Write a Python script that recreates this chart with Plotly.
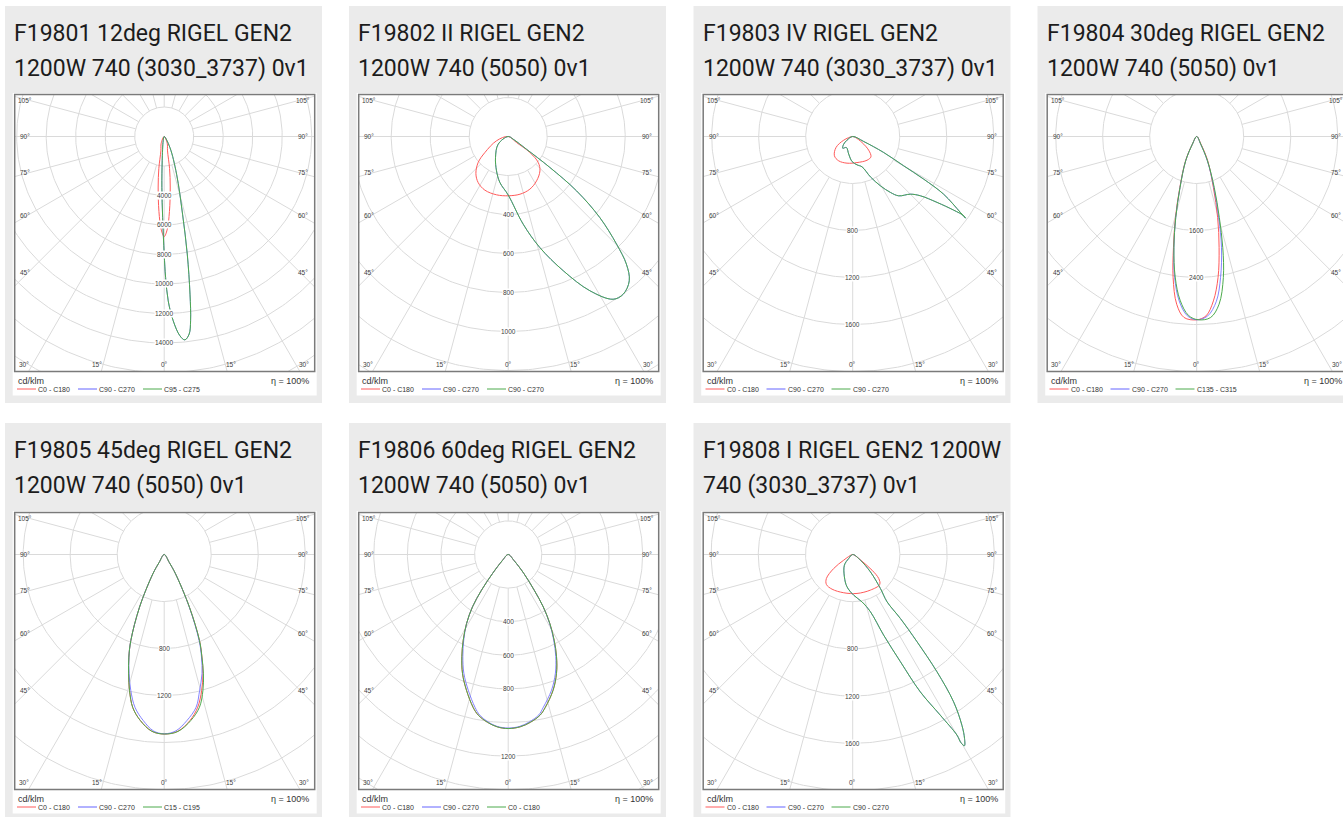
import numpy as np
import plotly.graph_objects as go

# ------------------------------------------------------------------ data
titles_line1 = ["F19801 12deg RIGEL GEN2", "F19802 II RIGEL GEN2", "F19803 IV RIGEL GEN2",
                "F19804 30deg RIGEL GEN2", "F19805 45deg RIGEL GEN2", "F19806 60deg RIGEL GEN2",
                "F19808 I RIGEL GEN2 1200W"]
titles_line2 = ["1200W 740 (3030_3737) 0v1", "1200W 740 (5050) 0v1", "1200W 740 (3030_3737) 0v1",
                "1200W 740 (5050) 0v1", "1200W 740 (5050) 0v1", "1200W 740 (5050) 0v1",
                "740 (3030_3737) 0v1"]
legend_names = [
    ["C0 - C180", "C90 - C270", "C95 - C275"],
    ["C0 - C180", "C90 - C270", "C90 - C270"],
    ["C0 - C180", "C90 - C270", "C90 - C270"],
    ["C0 - C180", "C90 - C270", "C135 - C315"],
    ["C0 - C180", "C90 - C270", "C15 - C195"],
    ["C0 - C180", "C90 - C270", "C0 - C180"],
    ["C0 - C180", "C90 - C270", "C90 - C270"],
]
unit_label = "cd/klm"
efficiency_label = "η = 100%"
ring_step = [2000, 200, 400, 800, 400, 200, 400]          # cd/klm between grid rings
ring_labels = [
    [4000, 6000, 8000, 10000, 12000, 14000],
    [400, 600, 800, 1000],
    [800, 1200, 1600],
    [1600, 2400],
    [800, 1200],
    [400, 600, 800, 1200],
    [800, 1200, 1600],
]
side_angle_labels = [105, 90, 75, 60, 45]
bottom_angle_labels = [-30, -15, 0, 15, 30]

# curves: signed gamma angle (deg, 0 = nadir, negative = left half) and intensity (cd/klm)
f19801_red_g = [-90, -24, -13, -9.5, -6.8, -4.0, -1.8, 0, 1.8, 4.0, 6.8, 9.5, 13, 24, 90]
f19801_red_i = [0, 500, 1000, 2200, 3450, 5100, 6330, 6780, 6330, 5100, 3450, 2200, 1000, 500, 0]
f19801_grn_g = [-90, -13, -4.7, -2.6, -1.1, 0, 0.57, 1.4, 2.8, 4.5, 5.8, 7.2, 8.15, 9.3, 11.1, 13.3, 18.2, 27.4, 90]
f19801_grn_i = [0, 300, 1650, 3460, 5490, 7970, 9560, 11150, 12510, 13550, 13860, 13500, 12620, 10830, 8120, 5410, 2690, 840, 0]
f19801_blu_g = f19801_grn_g
f19801_blu_i = f19801_grn_i

f19802_red_g = [-90, -69.8, -55.5, -49.1, -41.1, -33.1, -23.5, -11.3, 0, 11.5, 22.4, 32.6, 42.7, 49.1, 53.6, 54.1, 90]
f19802_red_i = [0, 64, 145, 204, 252, 282, 300, 305, 304, 302, 292, 270, 240, 204, 138, 53, 0]
f19802_grn_g = [-90, -52.4, -31.1, -18.8, -10.2, 0, 9.7, 15.9, 22.3, 27.9, 32.8, 36.1, 40, 42.8, 45.2, 48.5, 51.5, 53.4, 55.2, 61.6, 90]
f19802_grn_i = [0, 65, 126, 186, 240, 300, 456, 592, 744, 895, 993, 1001, 966, 892, 783, 627, 448, 266, 114, 29, 0]
f19802_blu_g = f19802_grn_g
f19802_blu_i = f19802_grn_i

f19803_red_g = [-90, -67.6, -56.6, -43.5, -29.9, -12, 9.4, 31.1, 42, 49.4, 57.2, 69.7, 90]
f19803_red_i = [0, 83, 170, 226, 239, 232, 225, 236, 232, 179, 94, 25, 0]
f19803_grn_g = [-90, -57, -49.5, -40.5, -29.8, -12.7, -1.5, 8.7, 17.1, 23.7, 29.3, 34, 37.8, 45, 48.8, 52, 53.9,
                54.5, 54.1, 54.8, 57.6, 59, 60.1, 62.7, 65.6, 90]
f19803_grn_i = [0, 58, 101, 131, 108, 154, 213, 244, 270, 375, 481, 574, 639, 694, 766, 911, 1064,
                1161, 1185, 1122, 917, 705, 500, 297, 103, 0]
f19803_blu_g = f19803_grn_g
f19803_blu_i = f19803_grn_i

f19804_red_g = [-90, -29.5, -24.6, -18.3, -14.7, -11.8, -9.5, -6.8, -4, 0, 3, 5.8, 8.6, 11.4, 14.5, 18.1, 24.4, 29.2, 90]
f19804_red_i = [0, 150, 455, 915, 1425, 1935, 2434, 2875, 3088, 3120, 3056, 2813, 2429, 1929, 1424, 914, 454, 150, 0]
f19804_blu_g = [-90, -29.2, -24.4, -18.1, -14.5, -11.6, -8.9, -6.1, -3, 0, 3.5, 6.8, 9.6, 12.6, 15.2, 18.6, 23.7, 27.5, 90]
f19804_blu_i = [0, 150, 454, 914, 1424, 1929, 2429, 2813, 3056, 3120, 3060, 2825, 2435, 1935, 1428, 916, 452, 148, 0]
f19804_grn_g = [-90, -29.2, -24.4, -18.1, -14.5, -11.6, -8.7, -5.8, -2.6, 0.5, 4.4, 7.6, 10.7, 13.2, 15.6, 19, 23.9, 27.7, 90]
f19804_grn_i = [0, 150, 454, 914, 1424, 1929, 2420, 2800, 3050, 3120, 3090, 2880, 2443, 1945, 1432, 918, 452, 148, 0]

f19805_grn_g = [-90, -32.5, -30.4, -25.1, -21.2, -19, -16.6, -14.3, -11.6, -8.2, -4.0, 0,
                4.5, 9.1, 13, 15.9, 18.2, 20.2, 22.3, 25.6, 30.4, 32.5, 90]
f19805_grn_i = [0, 80, 190, 495, 785, 924, 1060, 1195, 1330, 1427, 1508, 1528,
                1510, 1431, 1334, 1203, 1069, 930, 791, 498, 190, 80, 0]
f19805_red_g = [-90, -32.5, -30.4, -25.1, -21.2, -19, -16.6, -14.3, -11.6, -8.2, -4.0, 0,
                4.4, 8.8, 12.4, 15.4, 18.0, 20.2, 22.3, 25.6, 30.4, 32.5, 90]
f19805_red_i = [0, 80, 190, 495, 785, 924, 1060, 1195, 1330, 1427, 1508, 1528,
                1509, 1430, 1330, 1200, 1068, 930, 791, 498, 190, 80, 0]
f19805_blu_g = [-90, -32.5, -30.4, -25.1, -21.2, -19, -16.4, -13.8, -10.8, -7.2, -3.5, 0,
                3.8, 7.8, 11.8, 14.6, 17.6, 20, 22.1, 25.5, 30.4, 32.5, 90]
f19805_blu_i = [0, 80, 190, 495, 785, 922, 1058, 1192, 1325, 1424, 1504, 1526,
                1504, 1426, 1328, 1196, 1064, 928, 790, 497, 190, 80, 0]

f19806_grn_g = [-90, -44, -39.5, -36.8, -34.3, -31.1, -27.7, -24.4, -21, -17.1, -12.9, -10.6, -7.1, -3.65, 0,
                4, 7.6, 11.3, 13.6, 18.3, 22.1, 25.3, 28.2, 31.1, 33.8, 36.1, 39.5, 44, 90]
f19806_grn_i = [0, 50, 147, 265, 377, 480, 576, 668, 759, 845, 934, 972, 1006, 1028, 1036,
                1028, 1007, 974, 937, 851, 764, 673, 579, 480, 375, 263, 147, 50, 0]
f19806_red_g = f19806_grn_g
f19806_red_i = f19806_grn_i
f19806_blu_g = [-90, -44, -39.5, -36.8, -34.3, -31.1, -27.5, -24, -20.5, -16.4, -12.2, -10.1, -6.8, -3.5, 0,
                3.7, 7.1, 10.8, 12.9, 17.7, 21.7, 25, 28, 31, 33.8, 36.1, 39.5, 44, 90]
f19806_blu_i = [0, 50, 147, 265, 377, 479, 573, 664, 754, 842, 932, 970, 1004, 1026, 1033,
                1026, 1005, 972, 934, 848, 760, 670, 577, 479, 375, 263, 147, 50, 0]

f19808_red_g = [-90, -57.7, -53.6, -47.6, -41.2, -30.8, -13.2, 6.3, 26.4, 42, 47.3, 50.9, 54.2, 64, 90]
f19808_red_i = [0, 90, 200, 302, 338, 342, 333, 332, 337, 342, 300, 211, 97, 25, 0]
f19808_grn_g = [-90, -45, -37.8, -20.4, -10, 1.4, 11.1, 17.2, 21, 24, 26.2, 28.6, 30, 29.9, 30.3, 31.3, 32.6,
                34.4, 35.7, 36.4, 36.7, 36, 39.2, 45.6, 53.5, 90]
f19808_grn_i = [0, 48, 115, 202, 278, 345, 409, 508, 732, 995, 1297, 1551, 1768, 1839, 1877, 1824, 1718,
                1514, 1224, 919, 676, 495, 372, 210, 81, 0]
f19808_blu_g = f19808_grn_g
f19808_blu_i = f19808_grn_i

curves = [
    [(f19801_red_g, f19801_red_i), (f19801_blu_g, f19801_blu_i), (f19801_grn_g, f19801_grn_i)],
    [(f19802_red_g, f19802_red_i), (f19802_blu_g, f19802_blu_i), (f19802_grn_g, f19802_grn_i)],
    [(f19803_red_g, f19803_red_i), (f19803_blu_g, f19803_blu_i), (f19803_grn_g, f19803_grn_i)],
    [(f19804_red_g, f19804_red_i), (f19804_blu_g, f19804_blu_i), (f19804_grn_g, f19804_grn_i)],
    [(f19805_red_g, f19805_red_i), (f19805_blu_g, f19805_blu_i), (f19805_grn_g, f19805_grn_i)],
    [(f19806_red_g, f19806_red_i), (f19806_blu_g, f19806_blu_i), (f19806_grn_g, f19806_grn_i)],
    [(f19808_red_g, f19808_red_i), (f19808_blu_g, f19808_blu_i), (f19808_grn_g, f19808_grn_i)],
]

# ------------------------------------------------------------------ layout / style
W, H = 1343, 817
ring_px = [29.5, 39.0, 47.0, 47.0, 47.0, 33.6, 47.2]   # drawing scale: pixels per grid ring
card_left = [5, 349, 693.5, 1037.5]
card_top = [6, 423]
card_w, card_h = 317, 397
frame_left = [c + 9.7 for c in card_left]
frame_top = [94.5, 512.5]
frame_w, frame_h = 300, 277
cx_off, cy_off = 149.5, 42
legend_line_off = [2.3, 63.3, 128.3]
legend_line_len = 19
legend_text_gap = 2
curve_colors = ["#ff5a5a", "#6464ff", "#4caa4c"]
curve_widths = [1.0, 0.8, 1.0]
grid_color = "#dadada"
card_bg = "#ebebeb"
label_font = dict(family="Liberation Sans", size=6.5, color="#404040")
small_font = dict(family="Liberation Sans", size=7, color="#333333")
unit_font = dict(family="Liberation Sans", size=9, color="#333333")
title_font = dict(family="Roboto", size=23, color="#1c1c1c")


def px_x(p):
    return p / W


def px_y(p):
    return 1 - p / H


fig = go.Figure()
shapes, annotations = [], []
layout_axes = {}

for i in range(7):
    col, row = i % 4, i // 4
    n = "" if i == 0 else str(i + 1)
    fl, ft = frame_left[col], frame_top[row]
    fr = min(fl + frame_w, W)
    fb = ft + frame_h
    s = ring_px[i] / ring_step[i]          # px per cd/klm
    cx = fl + cx_off

    # card + white chart area + frame
    shapes.append(dict(type="rect", xref="paper", yref="paper", layer="below",
                       x0=px_x(card_left[col]), x1=px_x(card_left[col] + card_w),
                       y0=px_y(card_top[row] + card_h), y1=px_y(card_top[row]),
                       fillcolor=card_bg, line=dict(width=0)))
    shapes.append(dict(type="rect", xref="paper", yref="paper", layer="below",
                       x0=px_x(fl - 2), x1=px_x(fl + frame_w + 2),
                       y0=px_y(fb + 24), y1=px_y(ft - 1.5),
                       fillcolor="white", line=dict(width=0)))
    shapes.append(dict(type="rect", xref="paper", yref="paper", layer="above",
                       x0=px_x(fl), x1=px_x(fl + frame_w),
                       y0=px_y(fb), y1=px_y(ft),
                       fillcolor="rgba(0,0,0,0)", line=dict(color="#7a7a7a", width=1.5)))

    # axes (equal scale, origin = lamp centre)
    layout_axes[f"xaxis{n}"] = dict(domain=[px_x(fl), px_x(fr)],
                                    range=[-cx_off / s, (fr - cx) / s],
                                    visible=False, fixedrange=True, anchor=f"y{n}")
    layout_axes[f"yaxis{n}"] = dict(domain=[px_y(fb), px_y(ft)],
                                    range=[-(frame_h - cy_off) / s, cy_off / s],
                                    visible=False, fixedrange=True, anchor=f"x{n}")

    # polar grid
    step = ring_step[i]
    k_max = int(np.ceil(300 / ring_px[i])) + 1
    t = np.radians(np.linspace(0, 360, 361))
    gx, gy = [], []
    for k in range(1, k_max + 1):
        r = k * step
        gx += list(r * np.sin(t)) + [None]
        gy += list(-r * np.cos(t)) + [None]
    for a in range(0, 360, 15):
        ar = np.radians(a)
        gx += [step * np.sin(ar), k_max * step * np.sin(ar), None]
        gy += [-step * np.cos(ar), -k_max * step * np.cos(ar), None]
    fig.add_trace(go.Scatter(x=gx, y=gy, xaxis=f"x{n}", yaxis=f"y{n}", mode="lines",
                             line=dict(color=grid_color, width=1), hoverinfo="skip", showlegend=False))

    # photometric curves
    for j, (g, inten) in enumerate(curves[i]):
        gr = np.radians(np.array(g, dtype=float))
        iv = np.array(inten, dtype=float)
        fig.add_trace(go.Scatter(x=iv * np.sin(gr), y=-iv * np.cos(gr), xaxis=f"x{n}", yaxis=f"y{n}",
                                 mode="lines", name=legend_names[i][j], showlegend=False,
                                 line=dict(color=curve_colors[j], width=curve_widths[j],
                                           shape="spline", smoothing=1.0),
                                 hoverinfo="skip"))
        # legend entry (sample line + name) under the frame
        lx0 = fl + legend_line_off[j]
        shapes.append(dict(type="line", xref="paper", yref="paper", layer="above",
                           x0=px_x(lx0), x1=px_x(lx0 + legend_line_len),
                           y0=px_y(fb + 17.5), y1=px_y(fb + 17.5),
                           line=dict(color=curve_colors[j], width=1)))
        annotations.append(dict(x=px_x(lx0 + legend_line_len + legend_text_gap - 2), y=px_y(fb + 17.5),
                                xref="paper", yref="paper", text=legend_names[i][j], showarrow=False,
                                xanchor="left", yanchor="middle", font=small_font))

    # ring value labels
    for v in ring_labels[i]:
        annotations.append(dict(x=0, y=-v, xref=f"x{n}", yref=f"y{n}", text=str(v), showarrow=False,
                                font=label_font, bgcolor="white", borderpad=0,
                                xanchor="center", yanchor="middle"))
    # angle labels at the sides
    for a in side_angle_labels:
        y_px = 136 * np.cos(np.radians(a)) / np.sin(np.radians(a))
        for side in (-1, 1):
            annotations.append(dict(x=side * 139 / s, y=-y_px / s, xref=f"x{n}", yref=f"y{n}",
                                    text=f"{a}°", showarrow=False, font=label_font,
                                    xanchor="center", yanchor="middle"))
    # angle labels along the bottom
    for a in bottom_angle_labels:
        x_px = 0 if a == 0 else np.sign(a) * (236 * np.tan(np.radians(abs(a))) + 4)
        annotations.append(dict(x=x_px / s, y=-228 / s, xref=f"x{n}", yref=f"y{n}",
                                text=f"{abs(a)}°", showarrow=False, font=label_font,
                                xanchor="center", yanchor="middle"))

    # unit / efficiency
    annotations.append(dict(x=px_x(fl + 1.5), y=px_y(fb + 9.5), xref="paper", yref="paper",
                            text=unit_label, showarrow=False, xanchor="left", yanchor="middle",
                            font=unit_font))
    annotations.append(dict(x=px_x(fl + frame_w - 3.5), y=px_y(fb + 9), xref="paper", yref="paper",
                            text=efficiency_label, showarrow=False, xanchor="right", yanchor="middle",
                            font=unit_font))
    # titles
    annotations.append(dict(x=px_x(card_left[col] + 7), y=px_y(card_top[row] + 27.5), xref="paper",
                            yref="paper", text=titles_line1[i], showarrow=False, xanchor="left",
                            yanchor="middle", font=title_font))
    annotations.append(dict(x=px_x(card_left[col] + 7), y=px_y(card_top[row] + 62.5), xref="paper",
                            yref="paper", text=titles_line2[i], showarrow=False, xanchor="left",
                            yanchor="middle", font=title_font))

fig.update_layout(width=W, height=H, margin=dict(l=0, r=0, t=0, b=0, pad=0),
                  paper_bgcolor="white", plot_bgcolor="rgba(0,0,0,0)", showlegend=False,
                  shapes=shapes, annotations=annotations, **layout_axes)

fig.write_html("out.html", config={"displayModeBar": False},
               post_script="document.body.style.margin='0px';document.body.style.overflow='hidden';")
